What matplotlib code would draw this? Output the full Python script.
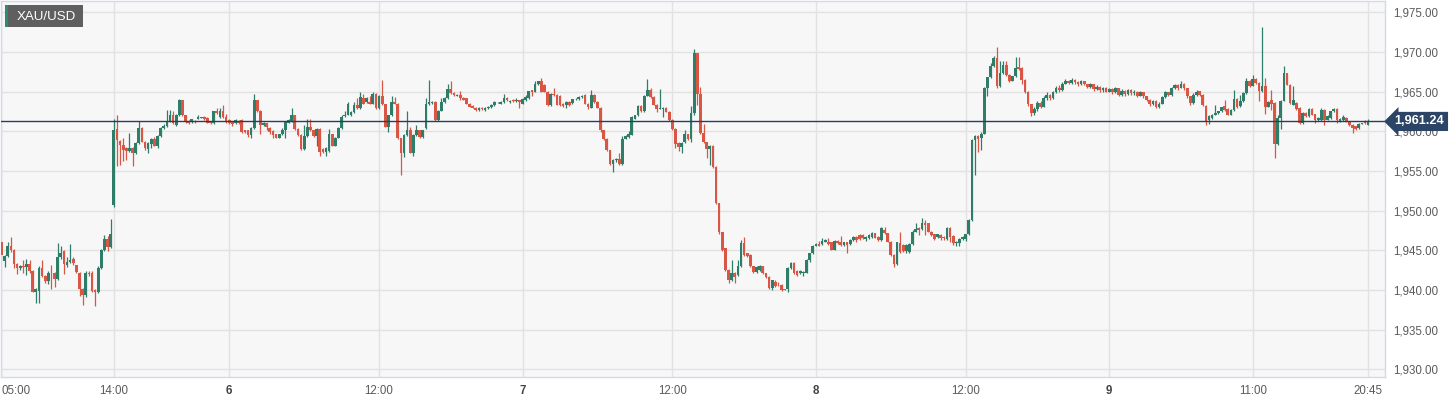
import matplotlib
matplotlib.use("Agg")
import matplotlib.pyplot as plt
from matplotlib.patches import Rectangle
import numpy as np

# XAU/USD 15 min candles
opens = [
    1946.0, 1943.7, 1944.3, 1945.5, 1945.0, 1943.3, 1942.8, 1943.0, 1942.85, 1943.3, 1942.4, 1939.7, 1939.9, 1942.8, 1941.8, 1941.1, 1942.2, 1942.2, 1941.4, 1944.1, 1944.9, 1943.1, 1943.5, 1943.9, 1943.1, 1942.2, 1940.1, 1939.4, 1942.2, 1942.2, 1940.0, 1939.7, 1942.8, 1945.0, 1946.4, 1945.4,
    1950.7, 1960.3, 1958.8, 1958.3, 1957.9, 1957.5, 1957.9, 1957.2, 1958.5, 1960.4, 1958.7, 1957.8, 1958.4, 1959.0, 1958.2, 1959.4, 1960.4, 1960.7, 1961.3, 1962.0,
    1960.8, 1962.0, 1963.9, 1962.0, 1961.3, 1961.2, 1961.3, 1961.6, 1961.7, 1961.8, 1961.7, 1961.2, 1961.0, 1962.55, 1961.8, 1962.5, 1961.8, 1961.4, 1961.2, 1961.0, 1961.3, 1961.4, 1960.1, 1960.1, 1959.5, 1960.4, 1963.9, 1962.6, 1960.8, 1961.0, 1960.4, 1960.0, 1959.6, 1959.2, 1959.6, 1960.1, 1961.1, 1961.3, 1962.0, 1960.3, 1959.5, 1957.8, 1959.4, 1960.6, 1960.1, 1959.4, 1960.3, 1957.8, 1957.4, 1957.5, 1959.6, 1958.2, 1959.2, 1960.4,
    1961.9, 1962.1, 1962.0, 1962.4, 1963.3, 1962.9, 1964.2, 1963.7, 1963.7, 1963.5, 1964.7, 1962.9, 1964.5, 1963.4, 1960.6, 1962.0, 1963.7, 1963.5, 1959.1, 1957.3, 1959.5, 1960.2, 1957.3, 1959.5, 1960.15, 1959.3, 1960.4, 1963.4, 1963.6, 1963.7, 1961.4, 1962.6, 1963.7, 1964.2, 1965.3, 1964.8, 1964.5, 1964.6, 1964.2, 1964.16, 1963.5, 1963.2, 1962.97, 1962.7, 1962.97, 1962.7, 1962.9, 1963.0, 1963.3, 1963.65, 1963.5, 1963.7, 1964.2, 1963.7, 1964.0, 1963.8,
    1963.9, 1963.5, 1963.9, 1964.2, 1965.17, 1965.0, 1965.9, 1966.4, 1965.8, 1965.0, 1963.3, 1964.75, 1964.6, 1964.5, 1963.5, 1963.3, 1963.7, 1963.6, 1964.03, 1964.1, 1964.3, 1964.6, 1963.5, 1962.94, 1964.6, 1963.7, 1962.94, 1960.13, 1959.0, 1957.6, 1955.9, 1956.35, 1956.55, 1955.9, 1959.07, 1959.3, 1959.58, 1961.6, 1962.0, 1963.2, 1962.5, 1964.5, 1965.17, 1964.33, 1963.36, 1962.86, 1962.86, 1962.94, 1962.44, 1961.4, 1960.34, 1958.57, 1958.0,
    1958.6, 1959.6, 1959.05, 1962.25, 1969.83, 1964.65, 1959.8, 1958.6, 1957.8, 1958.2, 1955.5, 1950.9, 1947.25, 1945.27, 1942.5, 1941.2, 1942.2, 1941.9, 1942.96, 1945.9, 1944.6, 1944.4, 1942.96, 1942.3, 1942.5, 1942.96, 1942.1, 1941.6, 1940.2, 1941.06, 1940.64, 1940.64, 1940.1, 1940.1, 1942.83, 1943.4, 1942.4, 1942.1, 1942.1, 1942.2, 1943.8, 1944.6, 1945.57, 1945.8, 1945.8, 1946.1, 1946.1, 1946.0, 1945.06, 1946.2, 1946.0, 1945.7, 1946.0, 1945.8, 1946.3,
    1946.73, 1946.94, 1946.94, 1946.43, 1946.5, 1946.73, 1947.15, 1946.73, 1946.3, 1947.57, 1947.15, 1946.1, 1944.4, 1943.23, 1945.88, 1945.67, 1944.9, 1944.83, 1945.76, 1947.36, 1947.78, 1947.65, 1948.4, 1948.4, 1947.36, 1947.0, 1946.73, 1946.94, 1946.73, 1946.43, 1947.78, 1946.8, 1945.88, 1945.88, 1946.43, 1946.43, 1947.0, 1948.8, 1958.93, 1959.35, 1959.14, 1959.7, 1965.45, 1966.8, 1968.2, 1969.24, 1965.67, 1967.35, 1968.4, 1967.14, 1966.38, 1966.93, 1968.06, 1967.98,
    1966.5, 1965.0, 1963.4, 1962.3, 1962.8, 1963.6, 1963.1, 1964.2, 1964.6, 1964.2, 1964.9, 1965.5, 1965.2, 1966.0, 1966.4, 1966.1, 1966.5, 1966.2, 1965.9, 1966.3, 1965.9, 1965.6, 1965.9, 1965.3, 1965.6, 1965.2, 1965.5, 1965.0, 1965.3, 1964.9, 1965.4, 1964.6, 1965.1, 1964.7, 1965.2, 1964.8, 1965.0, 1964.5, 1964.9, 1964.4, 1964.0, 1963.4, 1963.8, 1963.1, 1963.5, 1964.3, 1964.9, 1964.6, 1965.4, 1965.8, 1965.5, 1966.0, 1965.4, 1964.4, 1963.6, 1964.6,
    1965.04, 1964.62, 1963.24, 1961.47, 1961.68, 1962.1, 1962.31, 1962.52, 1963.24, 1962.82, 1962.1, 1962.73, 1964.08, 1963.15, 1963.78, 1964.83, 1966.39, 1965.76, 1966.6, 1966.1, 1965.04, 1965.67, 1963.07, 1964.0, 1963.57, 1958.45, 1961.68, 1963.87, 1967.35, 1965.88, 1963.36, 1963.57, 1962.94, 1961.05, 1962.31, 1961.89, 1962.82, 1962.18, 1961.39, 1961.39, 1962.73, 1961.47, 1961.68, 1962.52, 1962.82, 1961.26, 1961.47, 1961.68, 1961.26, 1960.84, 1960.63, 1960.42, 1960.97, 1961.26, 1960.84,
]
highs = [
    1946.2, 1944.4, 1946.0, 1946.7, 1945.1, 1943.4, 1943.2, 1943.8, 1943.9, 1943.8, 1942.5, 1940.3, 1943.0, 1943.8, 1941.9, 1942.4, 1943.1, 1942.3, 1945.9, 1945.5, 1945.0, 1944.1, 1945.8, 1944.1, 1943.2, 1942.3, 1940.2, 1942.4, 1942.4, 1942.4, 1940.1, 1943.0, 1945.2, 1946.9, 1946.8, 1948.9,
    1961.6, 1962.1, 1958.9, 1959.2, 1958.0, 1959.8, 1958.0, 1958.7, 1961.3, 1960.5, 1958.8, 1958.6, 1959.1, 1959.3, 1959.5, 1960.5, 1960.9, 1962.7, 1962.7, 1962.5,
    1962.2, 1964.1, 1964.0, 1962.1, 1961.4, 1961.6, 1961.4, 1962.05, 1961.8, 1961.9, 1961.8, 1961.3, 1962.6, 1962.9, 1962.9, 1963.3, 1962.2, 1961.5, 1961.3, 1961.5, 1961.4, 1961.5, 1960.2, 1960.2, 1960.5, 1964.7, 1964.0, 1962.7, 1961.2, 1961.1, 1960.5, 1960.1, 1959.7, 1959.7, 1960.4, 1961.3, 1961.5, 1962.9, 1962.1, 1960.4, 1959.6, 1960.8, 1961.5, 1961.5, 1960.2, 1960.4, 1960.4, 1957.9, 1958.0, 1960.3, 1959.7, 1959.3, 1960.5, 1962.1,
    1962.5, 1963.7, 1962.5, 1963.65, 1964.16, 1965.0, 1964.7, 1964.3, 1964.4, 1965.0, 1964.8, 1964.6, 1966.5, 1963.5, 1962.1, 1964.4, 1964.3, 1963.6, 1959.2, 1959.6, 1962.6, 1960.5, 1959.6, 1960.8, 1960.2, 1960.2, 1964.2, 1966.5, 1963.8, 1963.8, 1962.7, 1964.2, 1964.3, 1965.9, 1966.3, 1965.0, 1964.7, 1965.1, 1964.3, 1964.2, 1963.6, 1963.3, 1963.0, 1963.0, 1963.0, 1963.0, 1963.2, 1963.4, 1963.8, 1963.7, 1963.8, 1964.7, 1964.3, 1963.9, 1964.1, 1964.2,
    1964.0, 1964.2, 1964.6, 1965.1, 1965.2, 1966.4, 1966.4, 1966.76, 1965.9, 1965.1, 1964.8, 1965.46, 1964.7, 1964.6, 1963.6, 1963.8, 1963.8, 1964.1, 1964.2, 1964.4, 1964.6, 1964.7, 1963.6, 1965.17, 1964.7, 1963.8, 1963.0, 1960.2, 1959.1, 1957.7, 1956.5, 1956.6, 1957.2, 1959.4, 1959.5, 1960.0, 1961.9, 1962.1, 1963.36, 1963.3, 1964.6, 1966.55, 1965.4, 1964.4, 1963.4, 1965.3, 1963.0, 1963.0, 1962.5, 1961.5, 1960.4, 1958.6, 1958.7,
    1960.2, 1959.7, 1963.2, 1970.34, 1969.9, 1965.6, 1960.86, 1958.7, 1958.3, 1958.3, 1955.6, 1951.0, 1947.3, 1945.3, 1942.6, 1943.8, 1942.3, 1943.8, 1946.33, 1946.7, 1944.7, 1944.5, 1943.0, 1943.0, 1943.1, 1943.0, 1942.2, 1941.7, 1941.3, 1941.27, 1941.0, 1940.7, 1940.15, 1942.9, 1943.5, 1943.5, 1942.5, 1942.5, 1942.4, 1943.9, 1944.7, 1945.7, 1945.9, 1946.2, 1946.5, 1946.4, 1946.5, 1946.1, 1946.3, 1946.3, 1946.8, 1946.1, 1946.1, 1946.4, 1946.8,
    1946.8, 1947.0, 1947.1, 1946.8, 1947.0, 1947.3, 1947.2, 1946.8, 1947.9, 1947.9, 1947.2, 1946.2, 1944.5, 1946.1, 1947.36, 1945.8, 1945.8, 1945.9, 1947.5, 1948.4, 1947.9, 1949.1, 1948.8, 1948.5, 1947.4, 1947.1, 1947.1, 1947.0, 1946.8, 1947.9, 1947.9, 1946.9, 1946.2, 1946.5, 1946.8, 1947.1, 1948.9, 1959.0, 1959.5, 1959.5, 1959.9, 1965.6, 1966.9, 1968.6, 1969.45, 1970.6, 1968.9, 1968.9, 1968.8, 1967.2, 1967.0, 1969.3, 1969.3, 1968.1,
    1966.6, 1965.1, 1963.5, 1963.0, 1963.8, 1963.8, 1964.4, 1964.9, 1964.7, 1965.1, 1965.7, 1965.8, 1966.2, 1966.6, 1966.5, 1966.7, 1966.6, 1966.3, 1966.5, 1966.4, 1966.0, 1966.1, 1966.0, 1965.8, 1965.7, 1965.6, 1965.6, 1965.5, 1965.4, 1965.6, 1965.5, 1965.3, 1965.2, 1965.3, 1965.3, 1965.2, 1965.1, 1965.1, 1965.0, 1964.5, 1964.1, 1964.0, 1963.9, 1963.7, 1964.5, 1965.1, 1965.0, 1965.6, 1966.0, 1965.9, 1966.3, 1966.1, 1965.5, 1964.5, 1964.8, 1965.2,
    1965.1, 1964.7, 1963.3, 1962.0, 1962.2, 1963.36, 1962.6, 1963.1, 1963.99, 1962.9, 1962.8, 1965.17, 1964.2, 1964.6, 1964.9, 1966.72, 1966.5, 1967.14, 1966.7, 1966.2, 1973.15, 1966.72, 1963.8, 1965.25, 1963.7, 1962.1, 1964.0, 1968.28, 1967.4, 1966.0, 1965.67, 1963.7, 1963.0, 1962.4, 1962.4, 1962.9, 1962.9, 1962.2, 1961.8, 1962.9, 1962.8, 1962.0, 1962.6, 1962.9, 1962.9, 1961.7, 1962.1, 1961.8, 1961.3, 1960.9, 1960.7, 1961.0, 1961.1, 1961.4, 1961.5,
]
lows = [
    1943.9, 1942.9, 1944.1, 1944.8, 1942.8, 1942.0, 1942.5, 1942.2, 1941.9, 1942.2, 1939.7, 1938.4, 1938.4, 1941.6, 1940.9, 1940.8, 1940.1, 1940.4, 1941.2, 1943.9, 1942.0, 1942.9, 1943.4, 1943.2, 1942.1, 1939.2, 1938.1, 1939.1, 1941.8, 1939.8, 1938.0, 1939.6, 1942.6, 1944.9, 1944.9, 1945.3,
    1950.5, 1955.6, 1955.8, 1956.2, 1956.4, 1957.4, 1955.6, 1957.1, 1958.4, 1958.6, 1957.7, 1957.2, 1957.9, 1958.1, 1957.9, 1959.3, 1960.3, 1960.6, 1961.2, 1960.9,
    1960.7, 1961.9, 1961.9, 1961.0, 1960.9, 1961.1, 1961.0, 1961.5, 1961.65, 1961.4, 1961.0, 1960.9, 1960.9, 1962.2, 1961.7, 1961.7, 1961.1, 1960.9, 1960.7, 1960.9, 1960.9, 1959.8, 1959.8, 1959.3, 1959.1, 1960.3, 1962.4, 1959.7, 1960.7, 1960.1, 1959.6, 1959.2, 1959.1, 1959.1, 1959.5, 1959.1, 1961.0, 1961.2, 1960.2, 1959.4, 1957.7, 1957.7, 1959.3, 1960.0, 1959.3, 1958.1, 1956.9, 1957.3, 1956.9, 1957.4, 1958.1, 1958.1, 1959.1, 1960.3,
    1961.8, 1962.0, 1961.9, 1962.3, 1962.8, 1962.8, 1963.4, 1963.6, 1963.4, 1963.4, 1962.8, 1962.8, 1963.3, 1960.5, 1959.9, 1961.9, 1963.4, 1959.0, 1954.45, 1956.8, 1959.4, 1957.2, 1956.9, 1959.4, 1959.2, 1959.2, 1960.3, 1963.3, 1963.5, 1961.3, 1961.3, 1962.5, 1963.6, 1964.1, 1964.7, 1964.5, 1964.4, 1964.0, 1963.9, 1963.4, 1963.0, 1962.9, 1962.5, 1962.6, 1962.7, 1962.6, 1962.8, 1962.9, 1963.2, 1963.6, 1963.4, 1963.6, 1963.8, 1963.6, 1963.7, 1963.7,
    1962.9, 1963.4, 1963.8, 1964.1, 1964.5, 1964.9, 1965.8, 1964.9, 1964.9, 1963.2, 1963.2, 1964.5, 1963.3, 1963.2, 1963.1, 1962.98, 1963.2, 1963.5, 1964.0, 1964.0, 1964.2, 1963.4, 1962.86, 1962.9, 1963.6, 1962.9, 1959.9, 1958.9, 1957.5, 1955.7, 1954.9, 1956.1, 1955.8, 1955.8, 1959.0, 1959.2, 1959.5, 1961.5, 1961.9, 1962.4, 1962.4, 1964.4, 1964.2, 1963.3, 1962.44, 1962.8, 1961.8, 1962.4, 1961.3, 1960.2, 1957.9, 1957.5, 1957.3,
    1958.5, 1958.9, 1958.6, 1962.1, 1963.3, 1959.7, 1958.5, 1956.65, 1955.8, 1955.4, 1950.8, 1947.1, 1944.9, 1942.4, 1940.9, 1941.1, 1940.85, 1941.8, 1942.9, 1944.3, 1944.2, 1942.9, 1942.2, 1942.2, 1942.4, 1942.0, 1941.5, 1940.1, 1940.0, 1940.4, 1940.5, 1939.9, 1940.0, 1939.7, 1942.7, 1942.0, 1941.8, 1942.0, 1941.8, 1942.1, 1943.5, 1944.5, 1945.5, 1945.5, 1945.7, 1946.0, 1945.7, 1945.0, 1945.0, 1945.8, 1945.6, 1945.6, 1944.6, 1945.7, 1946.2,
    1946.0, 1946.3, 1946.4, 1946.2, 1946.4, 1946.6, 1946.5, 1946.2, 1946.2, 1947.0, 1946.0, 1944.3, 1942.94, 1943.1, 1944.7, 1944.8, 1944.6, 1944.7, 1945.7, 1947.3, 1946.94, 1947.6, 1946.9, 1947.3, 1946.8, 1946.3, 1946.6, 1946.3, 1946.3, 1946.3, 1946.1, 1945.7, 1945.6, 1945.5, 1946.3, 1946.18, 1946.9, 1948.7, 1954.5, 1957.37, 1957.67, 1959.6, 1964.4, 1966.7, 1968.1, 1965.5, 1965.6, 1967.2, 1967.0, 1966.2, 1966.3, 1966.8, 1967.7, 1966.0,
    1964.8, 1963.2, 1961.9, 1962.0, 1962.6, 1962.9, 1963.0, 1964.0, 1963.9, 1964.1, 1964.8, 1965.0, 1965.1, 1965.9, 1965.9, 1966.0, 1966.0, 1965.7, 1965.8, 1965.8, 1965.4, 1965.5, 1965.1, 1965.2, 1965.0, 1965.0, 1964.9, 1964.9, 1964.7, 1964.8, 1964.4, 1964.5, 1964.5, 1964.6, 1964.6, 1964.6, 1964.3, 1964.4, 1964.2, 1963.8, 1963.2, 1963.3, 1962.9, 1962.9, 1963.4, 1964.2, 1964.4, 1964.5, 1965.3, 1965.2, 1965.4, 1965.2, 1964.2, 1963.3, 1963.5, 1964.5,
    1964.5, 1963.2, 1960.84, 1960.97, 1961.6, 1962.0, 1962.2, 1962.4, 1962.6, 1962.0, 1962.0, 1962.6, 1962.9, 1963.0, 1963.7, 1964.7, 1965.6, 1965.7, 1966.0, 1963.78, 1964.9, 1962.23, 1963.0, 1962.73, 1956.64, 1958.3, 1960.3, 1963.8, 1965.8, 1963.4, 1963.3, 1962.7, 1960.9, 1960.9, 1961.8, 1961.8, 1962.0, 1961.0, 1961.3, 1961.3, 1960.84, 1961.4, 1961.6, 1962.4, 1961.0, 1961.2, 1961.3, 1961.2, 1960.7, 1959.79, 1960.2, 1960.3, 1960.9, 1960.9, 1960.8,
]
closes = [
    1944.4, 1944.3, 1945.5, 1945.0, 1943.3, 1942.8, 1943.05, 1942.9, 1943.3, 1942.4, 1939.8, 1940.1, 1942.8, 1941.8, 1941.1, 1942.2, 1942.1, 1941.4, 1944.1, 1944.7, 1943.3, 1943.5, 1943.8, 1943.4, 1942.3, 1940.1, 1939.4, 1942.2, 1942.0, 1939.9, 1939.7, 1942.8, 1945.0, 1946.4, 1945.4, 1947.0,
    1960.2, 1958.9, 1958.3, 1957.7, 1957.5, 1957.9, 1957.2, 1958.5, 1960.4, 1958.7, 1957.9, 1958.5, 1959.0, 1958.2, 1959.4, 1960.4, 1960.7, 1961.3, 1962.0, 1961.1,
    1962.0, 1963.9, 1962.0, 1961.2, 1961.1, 1961.5, 1961.2, 1961.8, 1961.75, 1961.5, 1961.1, 1961.0, 1962.55, 1962.3, 1962.55, 1961.8, 1961.2, 1961.1, 1960.9, 1961.4, 1961.1, 1959.9, 1959.9, 1959.5, 1960.4, 1963.9, 1962.5, 1960.8, 1961.1, 1960.6, 1959.9, 1959.5, 1959.2, 1959.6, 1960.1, 1961.2, 1961.4, 1962.0, 1960.3, 1959.5, 1957.8, 1959.4, 1960.5, 1960.1, 1959.4, 1960.3, 1957.4, 1957.4, 1957.9, 1959.6, 1958.2, 1959.2, 1960.4, 1961.8,
    1962.1, 1963.4, 1962.4, 1963.3, 1962.9, 1964.3, 1963.5, 1964.2, 1963.5, 1964.7, 1962.9, 1964.5, 1963.4, 1960.6, 1962.0, 1963.7, 1963.5, 1959.1, 1957.3, 1959.5, 1960.2, 1957.3, 1959.5, 1960.15, 1959.3, 1960.15, 1963.5, 1963.7, 1963.7, 1961.4, 1962.6, 1963.7, 1964.2, 1965.3, 1964.8, 1964.6, 1964.6, 1964.16, 1964.0, 1963.5, 1963.1, 1962.97, 1962.7, 1962.97, 1962.8, 1962.97, 1963.1, 1963.3, 1963.7, 1963.65, 1963.7, 1964.2, 1963.9, 1963.8, 1963.8, 1964.0,
    1963.7, 1964.1, 1964.33, 1965.04, 1965.0, 1965.9, 1966.3, 1965.0, 1965.0, 1963.3, 1964.75, 1964.6, 1963.36, 1963.3, 1963.2, 1963.7, 1963.3, 1964.03, 1964.1, 1964.33, 1964.5, 1963.5, 1963.07, 1964.6, 1963.7, 1962.94, 1960.13, 1959.0, 1957.6, 1955.9, 1956.4, 1956.55, 1955.9, 1959.07, 1959.4, 1959.7, 1961.8, 1962.0, 1963.2, 1962.5, 1964.5, 1965.17, 1964.33, 1963.36, 1962.86, 1962.98, 1962.98, 1962.44, 1961.4, 1960.34, 1958.45, 1958.0, 1958.57,
    1959.6, 1959.05, 1962.25, 1969.83, 1964.65, 1959.8, 1958.6, 1957.8, 1958.2, 1955.5, 1950.96, 1947.25, 1945.06, 1942.5, 1941.2, 1942.2, 1941.6, 1942.96, 1945.9, 1944.4, 1944.3, 1942.96, 1942.3, 1942.87, 1942.96, 1942.1, 1941.6, 1940.2, 1941.2, 1940.5, 1940.6, 1940.0, 1940.05, 1942.83, 1943.46, 1942.1, 1941.9, 1942.4, 1942.3, 1943.8, 1944.6, 1945.57, 1945.8, 1945.57, 1946.2, 1946.3, 1945.8, 1945.06, 1946.2, 1945.9, 1945.7, 1946.0, 1945.7, 1946.3, 1946.7,
    1946.3, 1946.43, 1946.5, 1946.73, 1946.94, 1947.15, 1946.6, 1946.3, 1947.78, 1947.15, 1946.1, 1944.4, 1943.23, 1946.0, 1944.83, 1944.9, 1945.67, 1945.76, 1947.36, 1947.65, 1947.57, 1948.4, 1948.2, 1947.36, 1946.94, 1946.43, 1947.0, 1946.6, 1946.5, 1947.78, 1946.73, 1945.88, 1946.1, 1946.43, 1946.73, 1947.0, 1948.8, 1958.93, 1959.35, 1959.0, 1959.7, 1965.45, 1966.8, 1968.2, 1969.24, 1965.67, 1967.35, 1968.4, 1967.14, 1966.3, 1966.93, 1967.98, 1967.85, 1966.5,
    1965.0, 1963.4, 1962.3, 1962.8, 1963.6, 1963.1, 1964.2, 1964.6, 1964.2, 1964.9, 1965.5, 1965.2, 1966.0, 1966.4, 1966.1, 1966.5, 1966.2, 1965.9, 1966.3, 1965.9, 1965.6, 1965.9, 1965.3, 1965.6, 1965.2, 1965.5, 1965.0, 1965.3, 1964.9, 1965.4, 1964.6, 1965.1, 1964.7, 1965.2, 1964.8, 1965.0, 1964.5, 1964.9, 1964.4, 1964.0, 1963.4, 1963.8, 1963.1, 1963.5, 1964.3, 1964.9, 1964.6, 1965.4, 1965.8, 1965.5, 1966.0, 1965.4, 1964.4, 1963.6, 1964.6, 1965.0,
    1964.62, 1963.36, 1961.26, 1961.89, 1962.1, 1962.31, 1962.52, 1963.07, 1962.73, 1962.1, 1962.73, 1964.08, 1963.07, 1963.78, 1964.83, 1966.39, 1965.76, 1966.6, 1966.1, 1965.04, 1965.67, 1963.07, 1963.66, 1963.5, 1958.45, 1961.68, 1963.87, 1967.35, 1965.88, 1963.57, 1963.99, 1962.82, 1961.05, 1962.31, 1961.89, 1962.82, 1962.1, 1961.39, 1961.68, 1962.73, 1961.47, 1961.89, 1962.52, 1962.82, 1961.47, 1961.6, 1961.8, 1961.26, 1960.84, 1960.42, 1960.3, 1960.97, 1961.05, 1961.0, 1961.24,
]

# candle index of each time label
tick_idx = [0, 36, 73, 121, 167, 215, 261, 309, 355, 401, 438]
tick_text = ["05:00", "14:00", "6", "12:00", "7", "12:00", "8", "12:00", "9", "11:00", "20:45"]
price_ticks = [1930, 1935, 1940, 1945, 1950, 1955, 1960, 1965, 1970, 1975]
symbol = "XAU/USD"

UP = "#2e7d68"
DOWN = "#d95644"

plt.rcParams['font.family'] = ['Liberation Sans', 'DejaVu Sans']

o = np.array(opens)
h = np.array(highs)
l = np.array(lows)
c = np.array(closes)
x = np.arange(len(c))
cols = np.where(c >= o, UP, DOWN)

fig = plt.figure(figsize=(14.56, 4.03), dpi=100)
ax = fig.add_axes([1 / 1456, 26 / 403, 1384 / 1456, 376 / 403])
ax.set_facecolor("#f7f7f7")

ax.vlines(x, l, h, colors=cols, lw=0.9, zorder=2)
body = np.maximum(np.abs(c - o), 0.08)
ax.bar(x, body, bottom=np.minimum(o, c), width=0.86, color=cols, lw=0, zorder=3)

last = c[-1]
ax.axhline(last, color="#2b3d5c", lw=1.0, zorder=4)

ax.set_xlim(-0.16, 443.4)
ax.set_ylim(1929.03, 1976.42)

ax.set_xticks(tick_idx, tick_text)
ax.set_yticks(price_ticks, ["{:,.2f}".format(p) for p in price_ticks])
ax.yaxis.tick_right()
ax.tick_params(axis="both", length=0, labelsize=8.3, colors="#5a5a5a")
ax.tick_params(axis="x", pad=6)
ax.tick_params(axis="y", pad=6)
for lab in ax.get_xticklabels():
    if lab.get_text().isdigit():
        lab.set_fontweight("bold")
        lab.set_color("#444444")
ax.get_xticklabels()[0].set_ha("left")

ax.grid(color="#e2e2e2", lw=1.0, zorder=0)
ax.set_axisbelow(True)
for s in ax.spines.values():
    s.set_color("#d3d9e6")
    s.set_linewidth(1.0)

# last price tag on the right axis
ax.annotate("{:,.2f}".format(last), xy=(1, last), xycoords=("axes fraction", "data"),
            xytext=(7, 0), textcoords="offset points", ha="left", va="center",
            fontsize=9.2, fontweight="bold", color="white", zorder=6,
            bbox=dict(boxstyle="larrow,pad=0.28", fc="#2c4566", ec="none"))

# symbol badge top left
fig.add_artist(Rectangle((5 / 1456, 1 - 27 / 403), 78 / 1456, 22 / 403,
                         transform=fig.transFigure, fc="#5f5f5f", ec="none", zorder=10))
fig.add_artist(Rectangle((5 / 1456, 1 - 27 / 403), 2.5 / 1456, 22 / 403,
                         transform=fig.transFigure, fc="#2e8b6e", ec="none", zorder=11))
fig.text(17 / 1456, 1 - 16.5 / 403, symbol, color="white", fontsize=9.6,
         ha="left", va="center", zorder=12)

fig.savefig("out.png", dpi=100, facecolor="white")
